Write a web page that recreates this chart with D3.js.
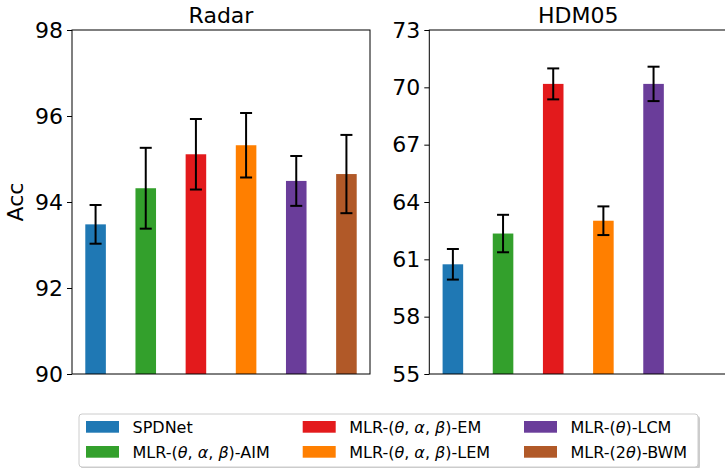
<!DOCTYPE html>
<html>
<head>
<meta charset="utf-8">
<script src="https://cdn.jsdelivr.net/npm/d3@7"></script>
<style>
  body { margin: 0; background: #fff; }
  svg { font-family: "DejaVu Sans", sans-serif; }
</style>
</head>
<body>
<svg id="chart" width="725" height="468"></svg>
<script>
// ---- data ----
const methods = ["SPDNet", "MLR-(θ, α, β)-AIM", "MLR-(θ, α, β)-EM", "MLR-(θ, α, β)-LEM", "MLR-(θ)-LCM", "MLR-(2θ)-BWM"];
const methodColors = ["#1f78b4", "#33a02c", "#e31a1c", "#ff7f00", "#6a3d9a", "#b15928"];

const radarMeans = [93.48, 94.32, 95.11, 95.32, 94.49, 94.65];
const radarStds  = [0.45, 0.94, 0.82, 0.75, 0.58, 0.91];
const radarTicks = [90, 92, 94, 96, 98];

const hdmMeans = [60.74, 62.35, 70.18, 63.02, 70.18];
const hdmStds  = [0.80, 0.98, 0.81, 0.75, 0.90];
const hdmTicks = [55, 58, 61, 64, 67, 70, 73];

const panels = [
  { title: "Radar", means: radarMeans, stds: radarStds, ticks: radarTicks, domain: [90, 98], x0: 72, x1: 370, ylabel: "Acc" },
  { title: "HDM05", means: hdmMeans, stds: hdmStds, ticks: hdmTicks, domain: [55, 73], x0: 429.3, x1: 727.3, ylabel: null }
];

const svg = d3.select("#chart");
const yTop = 30, yBot = 374;
const barW = 0.41;

panels.forEach(p => {
  const x = d3.scaleLinear().domain([-0.47, 5.47]).range([p.x0, p.x1]);
  const y = d3.scaleLinear().domain(p.domain).range([yBot, yTop]);
  const g = svg.append("g");
  const idx = d3.range(p.means.length);

  // bars
  g.selectAll("rect.bar").data(idx).enter().append("rect")
    .attr("class", "bar")
    .attr("x", i => x(i - barW / 2))
    .attr("width", i => x(i + barW / 2) - x(i - barW / 2))
    .attr("y", i => y(p.means[i]))
    .attr("height", i => y(p.domain[0]) - y(p.means[i]))
    .attr("fill", i => methodColors[i]);

  // error bars
  const eg = g.append("g").attr("stroke", "#000").attr("stroke-width", 2);
  idx.forEach(i => {
    const cx = x(i);
    const lo = y(p.means[i] - p.stds[i]), hi = y(p.means[i] + p.stds[i]);
    eg.append("line").attr("x1", cx).attr("x2", cx).attr("y1", lo).attr("y2", hi);
    eg.append("line").attr("x1", cx - 6).attr("x2", cx + 6).attr("y1", lo).attr("y2", lo);
    eg.append("line").attr("x1", cx - 6).attr("x2", cx + 6).attr("y1", hi).attr("y2", hi);
  });

  // frame
  g.append("rect")
    .attr("x", p.x0).attr("y", yTop)
    .attr("width", p.x1 - p.x0).attr("height", yBot - yTop)
    .attr("fill", "none").attr("stroke", "#000").attr("stroke-width", 1);

  // y axis
  const ax = g.append("g").attr("transform", `translate(${p.x0},0)`)
    .call(d3.axisLeft(y).tickValues(p.ticks).tickSize(5).tickPadding(4).tickFormat(d3.format("d")));
  ax.select(".domain").remove();
  ax.selectAll("text").attr("font-size", 22).attr("fill", "#000").attr("font-family", "DejaVu Sans");
  ax.selectAll("line").attr("stroke", "#000");

  // title
  g.append("text")
    .attr("x", (p.x0 + p.x1) / 2).attr("y", 22.7)
    .attr("text-anchor", "middle").attr("font-size", 22).attr("fill", "#000")
    .text(p.title);

  if (p.ylabel) {
    g.append("text")
      .attr("transform", `translate(22.7,${(yTop + yBot) / 2}) rotate(-90)`)
      .attr("text-anchor", "middle").attr("font-size", 22).attr("fill", "#000")
      .text(p.ylabel);
  }
});

// legend
const lg = svg.append("g");
lg.append("rect").attr("x", 81).attr("y", 416).attr("width", 619).attr("height", 53)
  .attr("rx", 3).attr("fill", "#999").attr("opacity", 0.5);
lg.append("rect").attr("x", 79).attr("y", 414).attr("width", 619).attr("height", 53)
  .attr("rx", 3).attr("fill", "#fff").attr("stroke", "#ccc").attr("stroke-width", 1);

const colX = [86, 302.7, 524];
const rowY = [421, 446];
methods.forEach((m, i) => {
  const col = Math.floor(i / 2), row = i % 2;
  lg.append("rect").attr("x", colX[col]).attr("y", rowY[row])
    .attr("width", 33).attr("height", 11.7).attr("fill", methodColors[i]);
  const t = lg.append("text").attr("x", colX[col] + 46.5).attr("y", rowY[row] + 11.7)
    .attr("font-size", 16).attr("fill", "#000").attr("xml:space", "preserve");
  // render Greek letters in italic like mathtext
  const parts = m.split(/([θαβ])/);
  parts.forEach(s => {
    if (!s) return;
    const ts = t.append("tspan").text(s);
    if (/[θαβ]/.test(s)) ts.attr("font-style", "italic");
  });
});
</script>
</body>
</html>
